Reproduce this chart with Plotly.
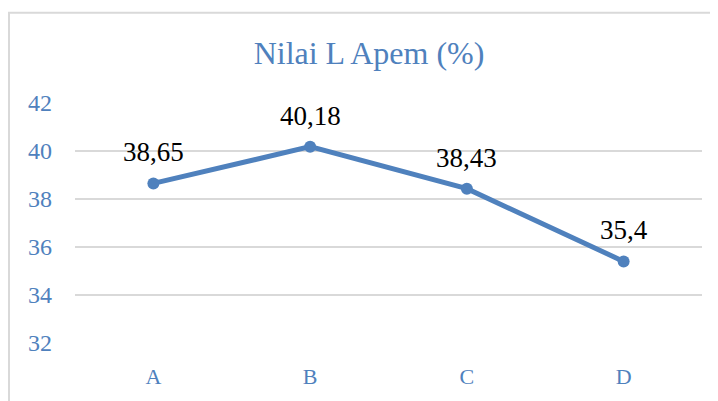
import plotly.graph_objects as go

categories = ["A", "B", "C", "D"]
values = [38.65, 40.18, 38.43, 35.4]
y_ticks = [32, 34, 36, 38, 40, 42]
title_text = "Nilai L Apem (%)"

blue = "#4F81BD"
OFF = 8  # browser body margin
W, H = 718 - OFF, 401 - OFF
ml, mr, mt, mb = 75 - OFF, 16, 103 - OFF, 56

fig = go.Figure()
fig.add_trace(go.Scatter(
    x=categories, y=values, mode="lines+markers",
    line=dict(color=blue, width=5),
    marker=dict(color=blue, size=12),
    hoverinfo="skip", cliponaxis=False,
))

for c, v in zip(categories, values):
    fig.add_annotation(
        x=c, y=v, text=f"{v}".replace(".", ","), showarrow=False,
        yanchor="bottom", yshift=14,
        font=dict(family="Liberation Serif", size=27, color="black"),
    )

pw = W - ml - mr
ph = H - mt - mb
fig.add_shape(
    type="rect", xref="paper", yref="paper",
    x0=(9 - OFF - ml) / pw, x1=(W + 20 - ml) / pw,
    y0=-(mb + 20) / ph, y1=(H - (12 - OFF) - mb) / ph,
    line=dict(color="#D9D9D9", width=2), fillcolor="rgba(0,0,0,0)", layer="below",
)

fig.update_layout(
    width=W, height=H,
    margin=dict(l=ml, r=mr, t=mt, b=mb, pad=0),
    paper_bgcolor="white", plot_bgcolor="white",
    showlegend=False,
    title=dict(text=title_text, x=(369 - OFF) / W, xref="container", xanchor="center",
               y=1 - (53 - OFF) / H, yref="container", yanchor="middle",
               font=dict(family="Liberation Serif", size=32, color=blue)),
    xaxis=dict(type="category", range=[-0.5, 3.5], showgrid=False, zeroline=False,
               showline=False, ticks="", ticklabelstandoff=18,
               tickfont=dict(family="Liberation Serif", size=22, color=blue)),
    yaxis=dict(range=[32, 42], tickvals=y_ticks, showgrid=True, gridcolor="#D9D9D9",
               gridwidth=2, zeroline=False, showline=False, ticks="",
               ticklabelstandoff=22,
               tickfont=dict(family="Liberation Serif", size=24, color=blue)),
)

fig.write_html("out.html")
